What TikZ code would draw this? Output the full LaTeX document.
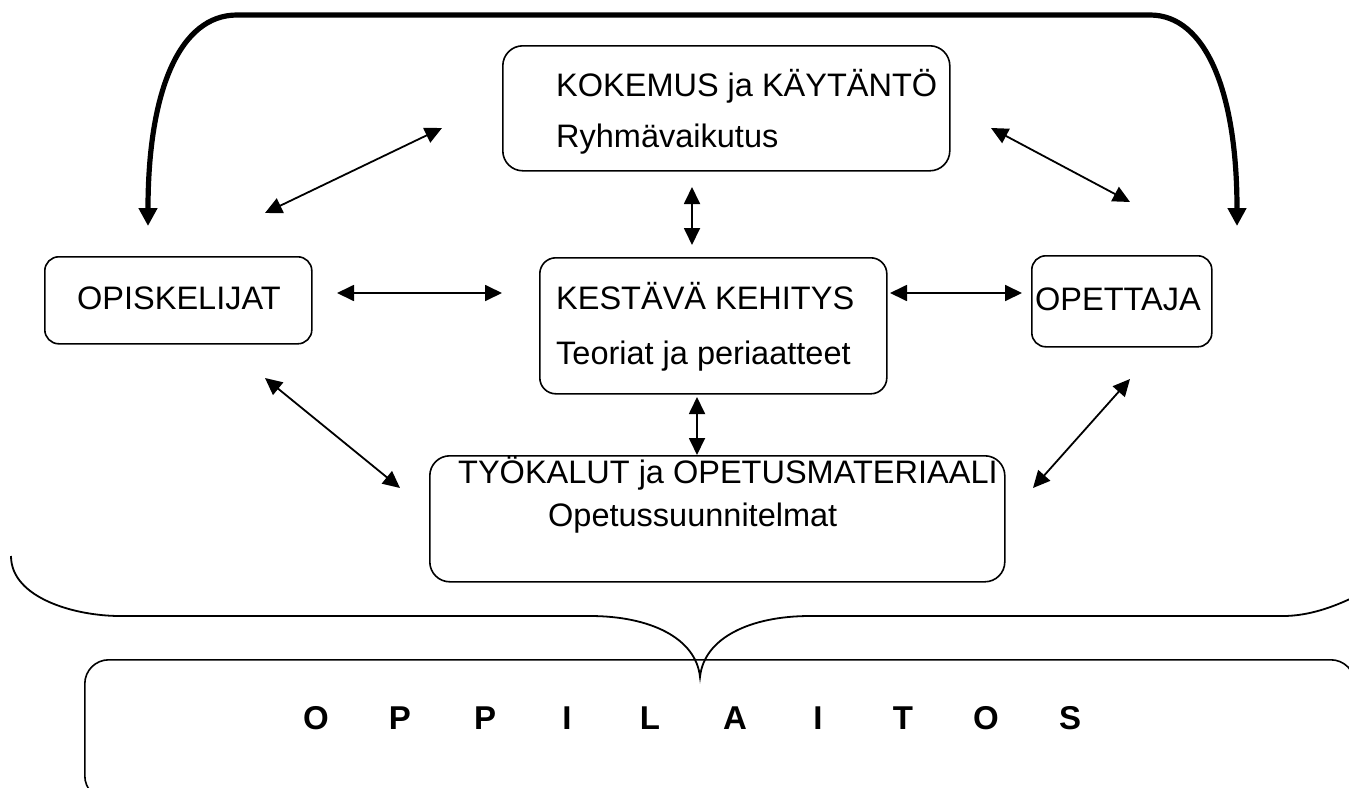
\documentclass[tikz,border=0pt]{standalone}
\usepackage{fontspec}
\setmainfont{Liberation Sans}
\usetikzlibrary{arrows.meta}
\begin{document}
\begin{tikzpicture}[x=1pt,y=-1pt,
  box/.style={draw,line width=1.6pt,inner sep=0pt,anchor=north west},
  txt/.style={anchor=base west,inner sep=0pt,font=\fontsize{32.5}{40}\selectfont},
  big/.style={anchor=base,inner sep=0pt,font=\fontsize{33}{40}\selectfont\bfseries},
  link/.style={line width=1.8pt,{Triangle[length=17pt,width=16pt]}-{Triangle[length=17pt,width=16pt]}},
  loop/.style={line width=5.2pt,{Triangle[length=18pt,width=18pt]}-{Triangle[length=18pt,width=18pt]}},
  brace/.style={line width=1.8pt}]
\clip (0,0) rectangle (1349,787);
\fill[white] (0,0) rectangle (1349,787);
% boxes
\node[box,rounded corners=20pt,minimum width=447pt,minimum height=125pt] (kok) at (502,45) {};
\node[box,rounded corners=14pt,minimum width=267pt,minimum height=87pt] (opi) at (44,256) {};
\node[box,rounded corners=16pt,minimum width=347pt,minimum height=136pt] (kes) at (539,257) {};
\node[box,rounded corners=14pt,minimum width=180pt,minimum height=91pt] (ope) at (1031,255) {};
\node[box,rounded corners=20pt,minimum width=575pt,minimum height=126pt] (tyo) at (429,455) {};
\node[box,rounded corners=24pt,minimum width=1270pt,minimum height=140pt] (opp) at (84,659) {};
% texts
\node[txt] (t1) at (556,96) {KOKEMUS ja KÄYTÄNTÖ};
\node[txt] (t2) at (556,147) {Ryhmävaikutus};
\node[txt] (t3) at (77,309) {OPISKELIJAT};
\node[txt] (t4) at (556,309) {KESTÄVÄ KEHITYS};
\node[txt] (t5) at (556,364) {Teoriat ja periaatteet};
\node[txt] (t6) at (1035,310) {OPETTAJA};
\node[txt] (t7) at (458,483) {TYÖKALUT ja OPETUSMATERIAALI};
\node[txt] (t8) at (548,526) {Opetussuunnitelmat};
\node[big] (l1) at (316,729) {O};
\node[big] (l2) at (400,729) {P};
\node[big] (l3) at (485,729) {P};
\node[big] (l4) at (567,729) {I};
\node[big] (l5) at (650,729) {L};
\node[big] (l6) at (735,729) {A};
\node[big] (l7) at (818,729) {I};
\node[big] (l8) at (903,729) {T};
\node[big] (l9) at (986,729) {O};
\node[big] (l10) at (1070,729) {S};
% arrow end points
\coordinate (a1) at (265,213); \coordinate (a2) at (442,128);
\coordinate (b1) at (991,128); \coordinate (b2) at (1130,202);
\coordinate (c1) at (692,187); \coordinate (c2) at (692,245);
\coordinate (d1) at (337,293); \coordinate (d2) at (502,293);
\coordinate (e1) at (890,293); \coordinate (e2) at (1022,293);
\coordinate (f1) at (697,397); \coordinate (f2) at (697,455);
\coordinate (g1) at (265,378); \coordinate (g2) at (400,488);
\coordinate (h1) at (1130,379); \coordinate (h2) at (1033,488);
\draw[link] (a1) -- (a2);
\draw[link] (b1) -- (b2);
\draw[link] (c1) -- (c2);
\draw[link] (d1) -- (d2);
\draw[link] (e1) -- (e2);
\draw[link] (f1) -- (f2);
\draw[link] (g1) -- (g2);
\draw[link] (h1) -- (h2);
% thick loop arrow
\coordinate (p1) at (237,15); \coordinate (p2) at (1150,15);
\coordinate (pl) at (148,226); \coordinate (pr) at (1237,226);
\draw[loop] (pl) .. controls (148,90) and (180,15) .. (p1) -- (p2) .. controls (1205,15) and (1237,90) .. (pr);
% brace
\coordinate (bl) at (11,556); \coordinate (bm) at (700,677); \coordinate (br) at (1352,598);
\draw[brace] (bl) .. controls (11,598) and (75,616) .. (120,616) -- (590,616)
  .. controls (650,616) and (696,638) .. (bm)
  .. controls (704,638) and (750,616) .. (810,616) -- (1283,616)
  .. controls (1310,616) and (1335,606) .. (br);
\end{tikzpicture}
\end{document}
